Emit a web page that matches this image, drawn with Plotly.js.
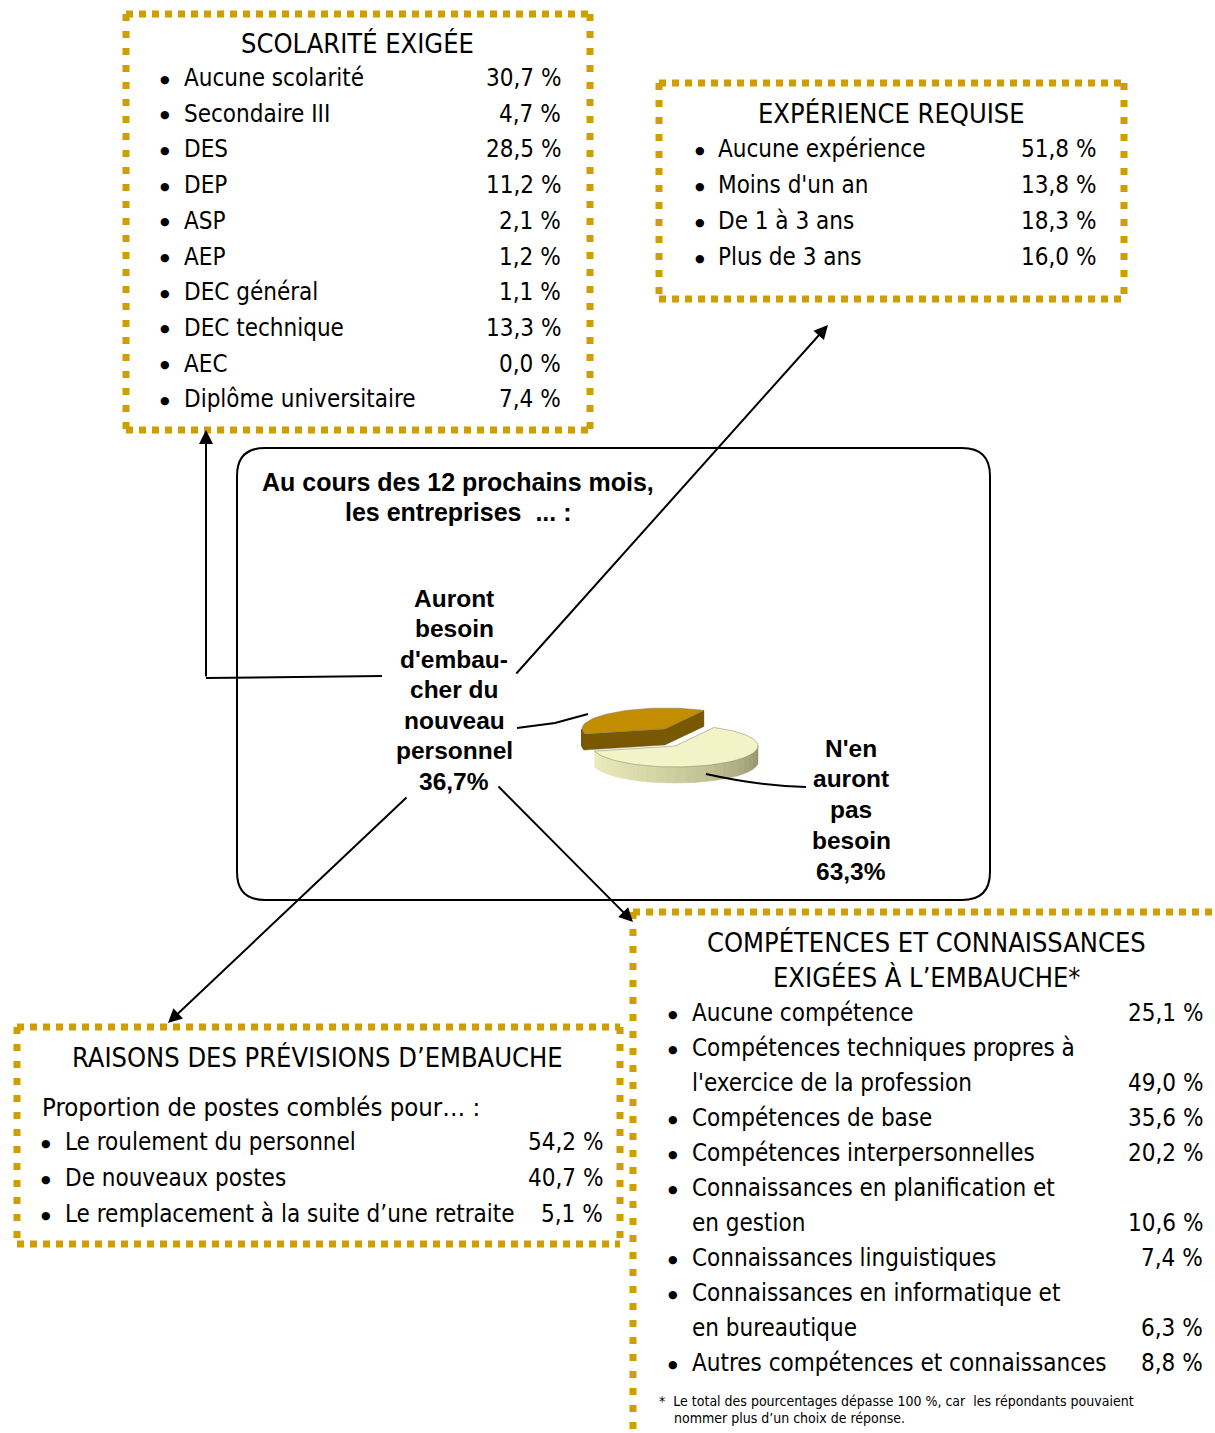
<!DOCTYPE html>
<html><head><meta charset="utf-8">
<script src="https://cdn.plot.ly/plotly-3.0.1.min.js"></script>
<style>html,body{margin:0;padding:0;background:#fff}#chart{width:1215px;height:1433px}</style>
</head><body><div id="chart"></div>
<script>
// ---------------- DATA ----------------
const scolariteTitle = "SCOLARITÉ EXIGÉE";
const scolariteLabels = ["Aucune scolarité","Secondaire III","DES","DEP","ASP","AEP","DEC général","DEC technique","AEC","Diplôme universitaire"];
const scolariteValues = [30.7,4.7,28.5,11.2,2.1,1.2,1.1,13.3,0.0,7.4];

const experienceTitle = "EXPÉRIENCE REQUISE";
const experienceLabels = ["Aucune expérience","Moins d'un an","De 1 à 3 ans","Plus de 3 ans"];
const experienceValues = [51.8,13.8,18.3,16.0];

const raisonsTitle = "RAISONS DES PRÉVISIONS D\u2019EMBAUCHE";
const raisonsSubtitle = "Proportion de postes comblés pour\u2026 :";
const raisonsLabels = ["Le roulement du personnel","De nouveaux postes","Le remplacement à la suite d\u2019une retraite"];
const raisonsValues = [54.2,40.7,5.1];

const competencesTitle = ["COMPÉTENCES ET CONNAISSANCES","EXIGÉES À L\u2019EMBAUCHE*"];
const competencesLabels = ["Aucune compétence","Compétences techniques propres à<br>l'exercice de la profession","Compétences de base","Compétences interpersonnelles","Connaissances en planification et<br>en gestion","Connaissances linguistiques","Connaissances en informatique et<br>en bureautique","Autres compétences et connaissances"];
const competencesValues = [25.1,49.0,35.6,20.2,10.6,7.4,6.3,8.8];
const footnote = ["*  Le total des pourcentages dépasse 100 %, car  les répondants pouvaient","nommer plus d\u2019un choix de réponse."];

const centerTitle = ["Au cours des 12 prochains mois,","les entreprises  ... :"];
const pieLabels = ["Auront<br>besoin<br>d'embau-<br>cher du<br>nouveau<br>personnel","N'en<br>auront<br>pas<br>besoin"];
const pieValues = [36.7,63.3];

// ---------------- STYLE ----------------
const NARROW = '"Liberation Sans Narrow","Arial Narrow","DejaVu Sans Condensed",sans-serif';
const BOLD = '"Liberation Sans",Arial,sans-serif';
const GOLD = '#CF9E00';
const ITEM = 24, HEAD = 27;
const fmt = v => v.toFixed(1).replace('.', ',') + ' %';
const fmtPct = v => v.toFixed(1).replace('.', ',') + '%';

const annotations = [];
const shapes = [];
const traces = [];

function txt(x, y, text, opts) {
  opts = opts || {};
  annotations.push({
    x: x, y: y, xref: 'x', yref: 'y', text: text, showarrow: false,
    xanchor: opts.xanchor || 'left', yanchor: opts.yanchor || 'middle', align: opts.align || 'left',
    font: {family: opts.family || NARROW, size: opts.size || ITEM, color: '#000'}
  });
}

function list(labels, values, o) {
  let y = o.y0;
  labels.forEach((lab, i) => {
    const lines = lab.split('<br>');
    txt(o.bx, y + 1, '\u25CF', {xanchor: 'center', size: 11, family: '"DejaVu Sans",sans-serif'});
    lines.forEach((ln, j) => {
      txt(o.lx, y, ln);
      if (j === lines.length - 1) txt(o.vx, y, fmt(values[i]), {xanchor: 'right'});
      if (j < lines.length - 1) y += o.step;
    });
    y += o.step;
  });
}

function dotted(x0, y0, x1, y1) {
  const horiz = Math.abs(y1 - y0) < 1;
  shapes.push({type: 'line', xref: 'x', yref: 'y', x0: x0, y0: y0, x1: x1, y1: y1,
    line: {color: GOLD, width: 7, dash: horiz ? '7px,6px' : '7px,10px'}});
}
function dottedBox(x0, y0, x1, y1) {
  dotted(x0, y0, x1, y0); dotted(x0, y1, x1, y1);
  dotted(x0, y0, x0, y1); dotted(x1, y0, x1, y1);
}

// ---------------- BOXES ----------------
dottedBox(126, 14, 590, 430);
dottedBox(659, 83, 1124, 299);
dottedBox(17, 1027, 620, 1244);
dotted(633, 912, 1215, 912);
dotted(633, 912, 633, 1440);

shapes.push({type: 'path', xref: 'x', yref: 'y',
  path: 'M 265,448 L 962,448 Q 990,448 990,476 L 990,872 Q 990,900 962,900 L 265,900 Q 237,900 237,872 L 237,476 Q 237,448 265,448 Z',
  line: {color: '#000', width: 2}});

// ---------------- TEXT BLOCKS ----------------
txt(357, 43, scolariteTitle, {xanchor: 'center', size: HEAD});
list(scolariteLabels, scolariteValues, {y0: 78, step: 35.7, bx: 165, lx: 182, vx: 563});

txt(891, 113, experienceTitle, {xanchor: 'center', size: HEAD});
list(experienceLabels, experienceValues, {y0: 149, step: 36, bx: 700, lx: 716, vx: 1098});

txt(317, 1057, raisonsTitle, {xanchor: 'center', size: HEAD});
txt(40, 1107, raisonsSubtitle, {size: 25.5});
list(raisonsLabels, raisonsValues, {y0: 1142, step: 36, bx: 46, lx: 63, vx: 605});

txt(926, 942, competencesTitle[0], {xanchor: 'center', size: HEAD});
txt(926, 977, competencesTitle[1], {xanchor: 'center', size: HEAD});
list(competencesLabels, competencesValues, {y0: 1013, step: 35, bx: 673, lx: 690, vx: 1205});
txt(657, 1401, footnote[0], {size: 14});
txt(672, 1418, footnote[1], {size: 14});

txt(458, 482, '<b>' + centerTitle[0] + '</b>', {xanchor: 'center', family: BOLD, size: 25});
txt(458, 512, '<b>' + centerTitle[1] + '</b>', {xanchor: 'center', family: BOLD, size: 25});

function stack(x, yTop, step, lines) {
  lines.forEach((ln, k) => txt(x, yTop + k * step, '<b>' + ln + '</b>', {xanchor: 'center', family: BOLD, size: 24.5}));
}
stack(454, 598, 30.5, pieLabels[0].split('<br>').concat([fmtPct(pieValues[0])]));
stack(851, 748, 30.75, pieLabels[1].split('<br>').concat([fmtPct(pieValues[1])]));

// ---------------- ARROWS ----------------
shapes.push({type: 'path', xref: 'x', yref: 'y', path: 'M 382,676 L 206,678', line: {color: '#000', width: 2}});
function arrow(x, y, ax, ay) {
  annotations.push({x: x, y: y, ax: ax, ay: ay, xref: 'x', yref: 'y', axref: 'x', ayref: 'y',
    text: '', showarrow: true, arrowhead: 2, arrowsize: 1.4, arrowwidth: 2, arrowcolor: '#000', standoff: 0, startstandoff: 0});
}
arrow(206, 430, 206, 678);
arrow(828, 325, 515, 675);
arrow(168, 1023, 408, 796);
arrow(633, 922, 497, 785);

// leader lines
shapes.push({type: 'path', xref: 'x', yref: 'y', path: 'M 517,728 L 555,723 L 588,714', line: {color: '#000', width: 2}});
shapes.push({type: 'path', xref: 'x', yref: 'y', path: 'M 706,774 Q 760,786 806,787', line: {color: '#000', width: 2}});

// ---------------- 3D PIE (computed from pieValues) ----------------
const PIE = {cx: 675, cy: 746, rx: 83, ry: 21, depth: 16, start: 62, pull: 18};
const total = pieValues.reduce((a, b) => a + b, 0);
const R = Math.PI / 180;
const topColors = ['#C28E00', '#F3F3C8'];
const sideColors = [['#7A5800', '#7A5800'], ['#ECECBC', '#8E8E64']];
const pulls = [1, 0];

function pt(a, ox, oy, dz) {
  return [PIE.cx + ox + PIE.rx * Math.cos(a * R), PIE.cy + oy - PIE.ry * Math.sin(a * R) + dz];
}
function poly(pts, color, lw) {
  traces.push({type: 'scatter', mode: 'lines', x: pts.map(p => p[0]).concat([pts[0][0]]), y: pts.map(p => p[1]).concat([pts[0][1]]),
    fill: 'toself', fillcolor: color, line: {color: lw ? 'rgba(100,100,80,0.6)' : color, width: lw || 0.5}, hoverinfo: 'skip', showlegend: false});
}
function mix(c1, c2, t) {
  const a = [1, 3, 5].map(i => parseInt(c1.substr(i, 2), 16));
  const b = [1, 3, 5].map(i => parseInt(c2.substr(i, 2), 16));
  return 'rgb(' + a.map((v, i) => Math.round(v + (b[i] - v) * t)).join(',') + ')';
}

let acc = PIE.start;
pieValues.forEach((v, i) => {
  const a0 = acc, a1 = acc + 360 * v / total;
  acc = a1;
  const mid = (a0 + a1) / 2;
  const ox = pulls[i] * PIE.pull * 0.9 * Math.cos(mid * R);
  const oy = -pulls[i] * PIE.pull * 1.2 * Math.sin(mid * R);
  const c = [PIE.cx + ox, PIE.cy + oy];
  // radial faces
  [[a0, a0 - 90], [a1, a1 + 90]].forEach(([a, n]) => {
    if (Math.sin(n * R) < 0) {
      const r = pt(a, ox, oy, 0), rb = pt(a, ox, oy, PIE.depth);
      poly([c, r, rb, [c[0], c[1] + PIE.depth]], sideColors[i][0], 0.6);
    }
  });
  // outer wall, visible front half, shaded in strips
  [[180, 360], [540, 720]].forEach(([lo, hi]) => {
    const s = Math.max(a0, lo), e = Math.min(a1, hi);
    if (e > s) {
      const n = 24;
      for (let k = 0; k < n; k++) {
        const t0 = s + (e - s) * k / n, t1 = s + (e - s) * (k + 1) / n;
        const pts = [];
        for (let q = 0; q <= 3; q++) pts.push(pt(t0 + (t1 - t0) * q / 3, ox, oy, 0));
        for (let q = 3; q >= 0; q--) pts.push(pt(t0 + (t1 - t0) * q / 3, ox, oy, PIE.depth));
        const tt = ((t0 + t1) / 2 % 360 - 180) / 180;
        poly(pts, mix(sideColors[i][0], sideColors[i][1], Math.pow(tt, 1.6)));
      }
    }
  });
  // top face
  const top = [c];
  const m = Math.max(8, Math.round((a1 - a0) / 3));
  for (let k = 0; k <= m; k++) top.push(pt(a0 + (a1 - a0) * k / m, ox, oy, 0));
  poly(top, topColors[i], 0.7);
});

const layout = {
  width: 1215, height: 1433, margin: {l: 0, r: 0, t: 0, b: 0},
  paper_bgcolor: '#fff', plot_bgcolor: '#fff', showlegend: false,
  xaxis: {range: [0, 1215], visible: false, fixedrange: true},
  yaxis: {range: [1433, 0], visible: false, fixedrange: true},
  shapes: shapes, annotations: annotations
};
Plotly.newPlot('chart', traces, layout, {displayModeBar: false, staticPlot: true});
</script>
</body></html>
